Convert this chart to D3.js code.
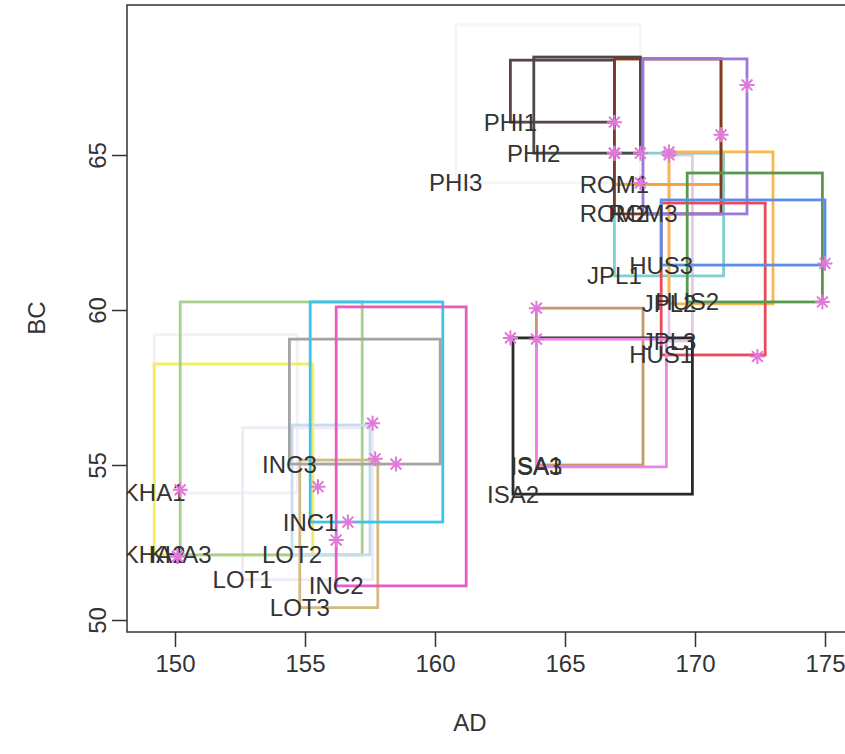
<!DOCTYPE html>
<html><head><meta charset="utf-8">
<script src="https://cdn.jsdelivr.net/npm/d3@7"></script>
<style>body{margin:0;background:#fff}</style></head>
<body><svg id="c" width="845" height="754"></svg>
<script>
// ---- data ----
const labels = ["PHI3","KHA1","LOT1","JPL3","JPL1","JPL2","ROM1","PHI1","PHI2","ROM2","ROM3",
                "HUS1","HUS2","HUS3","ISA1","ISA2","ISA3","KHA2","KHA3","LOT2","LOT3","INC3","INC1","INC2"];
const adMin = [160.8,149.2,152.6,169.0,166.9,169.0,166.9,162.9,163.8,166.9,168.0,
               168.7,169.7,168.7,163.9,163.0,163.9,149.2,150.2,154.5,154.8,154.4,155.2,156.2];
const adMax = [167.9,154.7,157.6,169.9,171.1,173.0,171.0,166.9,167.9,171.0,172.0,
               172.7,174.9,175.0,168.0,169.9,168.9,155.3,157.2,157.5,157.8,160.2,160.3,161.2];
const bcMin = [64.1,54.1,51.3,59.0,61.1,60.2,64.05,66.06,65.06,63.1,63.1,
               58.55,60.26,61.45,55.0,54.06,54.94,52.1,52.1,52.1,50.4,55.03,53.16,51.1];
const bcMax = [69.2,59.2,56.2,65.0,65.06,65.1,68.1,68.06,68.16,68.1,68.1,
               63.45,64.42,63.55,60.06,59.1,59.06,58.26,60.26,56.29,55.16,59.06,60.26,60.1];
const starAD = [167.9,150.2,155.5,169.0,166.9,169.0,166.9,166.9,167.9,171.0,172.0,
                172.4,174.9,175.0,163.9,162.9,163.9,150.1,150.1,157.6,157.7,158.5,156.65,156.2];
const starBC = [64.1,54.2,54.3,65.0,65.06,65.1,65.06,66.06,65.06,65.65,67.26,
                58.5,60.26,61.5,60.06,59.1,59.06,52.05,52.05,56.35,55.2,55.03,53.16,52.58];
const palette = ["#f5f5f5","#f1f1f7","#ecebf6","#e6c8e6","#80d0d0","#f8b850","#f0a040","#5b4350","#4a4a4a","#7a3a2a","#9a7ad8",
                 "#e84c5c","#5a9850","#5c8ee8","#c49a6c","#2a2a2a","#ec84e8","#f2ee60","#a8d090","#c8dcf0","#d2bc80","#a4a4a4","#3cc4ec","#e45cc4"];
const xTicks = [150,155,160,165,170,175];
const yTicks = [50,55,60,65];

// ---- layout ----
const L = 127, R = 851, T = 5, B = 632;
const x = d3.scaleLinear().domain([148.154, 176]).range([L, R]);
const y = d3.scaleLinear().domain([49.613, 69.839]).range([B, T]);
const svg = d3.select("#c");
const font = "'Liberation Sans', Arial, Helvetica, sans-serif";

svg.append("defs").append("clipPath").attr("id","pc")
  .append("rect").attr("x",L).attr("y",T).attr("width",R-L).attr("height",B-T);

const rows = labels.map((l,i)=>({l, x0:adMin[i], x1:adMax[i], y0:bcMin[i], y1:bcMax[i], sx:starAD[i], sy:starBC[i], c:palette[i]}));

const g = svg.append("g").attr("clip-path","url(#pc)");
g.selectAll("rect.iv").data(rows).join("rect").attr("class","iv")
  .attr("x", d=>x(d.x0)).attr("y", d=>y(d.y1))
  .attr("width", d=>x(d.x1)-x(d.x0)).attr("height", d=>y(d.y0)-y(d.y1))
  .attr("fill","none").attr("stroke", d=>d.c).attr("stroke-width",2.8);

g.selectAll("text.lb").data(rows).join("text").attr("class","lb")
  .attr("x", d=>x(d.x0)).attr("y", d=>y(d.y0))
  .attr("text-anchor","middle").attr("dominant-baseline","central")
  .attr("font-family",font).attr("font-size",24).attr("fill","#333")
  .text(d=>d.l);

const r = 7.5, q = r*0.72;
g.selectAll("path.st").data(rows).join("path").attr("class","st")
  .attr("d", d=>{const cx=x(d.sx), cy=y(d.sy);
    return `M${cx-r},${cy}L${cx+r},${cy}M${cx},${cy-r}L${cx},${cy+r}M${cx-q},${cy-q}L${cx+q},${cy+q}M${cx-q},${cy+q}L${cx+q},${cy-q}`;})
  .attr("stroke","#e07ad8").attr("stroke-width",2).attr("fill","none");

// box
svg.append("rect").attr("x",L).attr("y",T).attr("width",R-L).attr("height",B-T)
  .attr("fill","none").attr("stroke","#333").attr("stroke-width",1.5);

// axes
const xa = svg.append("g").attr("transform",`translate(0,${B})`)
  .call(d3.axisBottom(x).tickValues(xTicks).tickSize(15).tickPadding(8).tickFormat(d3.format("d")));
xa.select(".domain").remove();
xa.selectAll("line").attr("stroke","#333").attr("stroke-width",1.5);
xa.selectAll("text").attr("font-family",font).attr("font-size",24).attr("fill","#333");

const ya = svg.append("g").attr("transform",`translate(${L},0)`)
  .call(d3.axisLeft(y).tickValues(yTicks).tickSize(15).tickFormat(d3.format("d")));
ya.select(".domain").remove();
ya.selectAll("line").attr("stroke","#333").attr("stroke-width",1.5);
ya.selectAll("text").attr("font-family",font).attr("font-size",24).attr("fill","#333")
  .attr("text-anchor","middle").attr("x",0).attr("dy",0)
  .attr("dominant-baseline","central")
  .attr("transform","translate(-30,0) rotate(-90)");

svg.append("text").attr("x",470).attr("y",722).attr("text-anchor","middle").attr("dominant-baseline","central")
  .attr("font-family",font).attr("font-size",24).attr("fill","#333").text("AD");
svg.append("text").attr("transform","translate(36,318) rotate(-90)").attr("text-anchor","middle").attr("dominant-baseline","central")
  .attr("font-family",font).attr("font-size",24).attr("fill","#333").text("BC");
</script></body></html>
